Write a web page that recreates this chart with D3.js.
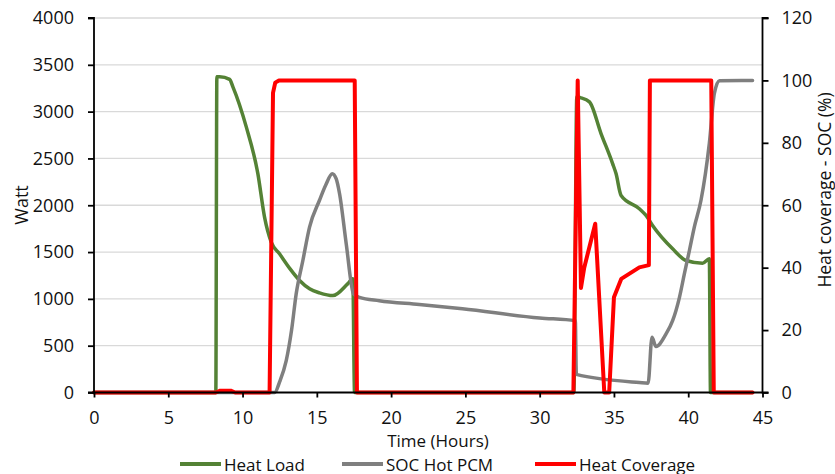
<!DOCTYPE html>
<html>
<head>
<meta charset="utf-8">
<script src="https://cdn.jsdelivr.net/npm/d3@7"></script>
<style>
  body { margin: 0; background: #fff; }
  text { font-family: "Open Sans", sans-serif; fill: #111; }
</style>
</head>
<body>
<div id="chart"></div>
<script>
const width = 835;
const height = 474;
const margin = { top: 18, bottom: 82, left: 94, right: 72 };

// time (hours), heat load (W)
const heatLoad = [
  [0, 0], [8.2, 0], [8.27, 3372], [8.46, 3372], [9.13, 3344], [9.35, 3265],
  [10.25, 2837], [11.03, 2338], [11.48, 1873], [11.93, 1606], [12.49, 1481],
  [13.2, 1320], [13.84, 1196], [14.51, 1107], [15.18, 1064], [16.08, 1035],
  [17.09, 1163], [17.42, 1214], [17.54, 0], [32.3, 0], [32.5, 3160],
  [32.72, 3150], [33.35, 3104], [34.13, 2766], [34.91, 2445], [35.14, 2338],
  [35.48, 2105], [36.71, 1963], [37.16, 1891], [37.6, 1784], [38.95, 1535],
  [39.85, 1410], [40.97, 1381], [41.42, 1428], [41.5, 0], [44.33, 0]
];

// time (hours), SOC hot PCM (%)
const socHotPcm = [
  [0, 0], [12.16, 0], [12.5, 3.5], [12.94, 10.2], [13.3, 20], [13.61, 31.6],
  [14.06, 42.3], [14.51, 53], [15.18, 61.6], [15.6, 66.5], [16.04, 70.1],
  [16.3, 68.5], [16.53, 63.7], [16.98, 47.6], [17.47, 31.6], [17.87, 30.5],
  [19.2, 29.4], [21.9, 28.2], [24.8, 26.8], [30, 23.9], [32.4, 23.0],
  [32.47, 5.8], [36.71, 3.2], [37.3, 3.0], [37.56, 17.7], [37.83, 14.7],
  [38.5, 18.7], [38.95, 23.0], [39.41, 30.5], [39.74, 38.0], [40.08, 45.5],
  [40.41, 53], [40.86, 61.6], [41.42, 79.8], [41.76, 95.8], [42.1, 99.9],
  [44.33, 100]
];

// time (hours), heat coverage (%)
const heatCoverage = [
  [0, 0], [8.2, 0], [8.5, 0.6], [9.2, 0.6], [9.5, 0], [11.82, 0], [12.05, 96],
  [12.2, 99.3], [12.45, 100], [17.55, 100], [17.7, 0], [32.27, 0],
  [32.56, 100], [32.78, 33.5], [33.0, 40], [33.74, 54.1], [34.35, 0],
  [34.68, 0], [35.0, 30.5], [35.49, 36.4], [36.71, 40.1], [37.35, 40.8],
  [37.42, 100], [41.55, 100], [41.72, 0], [44.33, 0]
];

const xTicks = [0, 5, 10, 15, 20, 25, 30, 35, 40, 45];
const leftTicks = [0, 500, 1000, 1500, 2000, 2500, 3000, 3500, 4000];
const rightTicks = [0, 20, 40, 60, 80, 100, 120];

const series = [
  { name: "Heat Load", data: heatLoad, axis: "left", color: "#548235", w: 3.5, curve: d3.curveMonotoneX },
  { name: "SOC Hot PCM", data: socHotPcm, axis: "right", color: "#7f7f7f", w: 3.5, curve: d3.curveMonotoneX },
  { name: "Heat Coverage", data: heatCoverage, axis: "right", color: "#ff0000", w: 4, curve: d3.curveLinear }
];

const svg = d3.select("#chart")
  .append("svg")
  .attr("width", width)
  .attr("height", height);

const x = d3.scaleLinear().domain([0, 45]).range([margin.left, width - margin.right - 0.5]);
const yL = d3.scaleLinear().domain([0, 4000]).range([height - margin.bottom + 0.5, margin.top]);
const yR = d3.scaleLinear().domain([0, 120]).range([height - margin.bottom + 0.5, margin.top]);

// gridlines
svg.append("g")
  .selectAll("line")
  .data(leftTicks.slice(1))
  .enter().append("line")
  .attr("x1", x(0)).attr("x2", x(45))
  .attr("y1", d => yL(d)).attr("y2", d => yL(d))
  .attr("stroke", "#d9d9d9")
  .attr("stroke-width", 1.3);

// lines
series.forEach(s => {
  const y = s.axis === "left" ? yL : yR;
  const line = d3.line()
    .curve(s.curve)
    .x(d => x(d[0]))
    .y(d => y(d[1]));
  svg.append("path")
    .datum(s.data)
    .attr("fill", "none")
    .attr("stroke", s.color)
    .attr("stroke-width", s.w)
    .attr("stroke-linejoin", "round")
    .attr("stroke-linecap", "round")
    .attr("d", line);
});

// axes
const xAxis = svg.append("g")
  .attr("transform", `translate(0,${yL(0)})`)
  .call(d3.axisBottom(x).tickValues(xTicks).tickFormat(d3.format("d")).tickSize(5).tickPadding(14));
const leftAxis = svg.append("g")
  .attr("transform", `translate(${x(0)},0)`)
  .call(d3.axisLeft(yL).tickValues(leftTicks).tickFormat(d3.format("d")).tickSize(6).tickPadding(14));
const rightAxis = svg.append("g")
  .attr("transform", `translate(${x(45)},0)`)
  .call(d3.axisRight(yR).tickValues(rightTicks).tickFormat(d3.format("d")).tickSize(6).tickPadding(13));

[xAxis, leftAxis, rightAxis].forEach(g => {
  g.selectAll("path.domain").attr("stroke", "#000").attr("stroke-width", 1.8);
  g.selectAll(".tick line").attr("stroke", "#000").attr("stroke-width", 1.8);
  g.selectAll(".tick text")
    .attr("font-family", "Open Sans")
    .attr("font-size", 18)
    .attr("fill", "#111");
});
xAxis.select("path.domain").attr("d", `M${x(0)},0H${x(45)}`);
leftAxis.select("path.domain").attr("d", `M-6,${yL(0)}H0V${yL(4000)}H-6`);
rightAxis.select("path.domain").attr("d", `M6,${yR(0)}H0V${yR(120)}H6`);

// axis titles
svg.append("text")
  .attr("transform", "translate(21,205) rotate(-90)")
  .attr("text-anchor", "middle")
  .attr("dominant-baseline", "central")
  .attr("font-size", 18)
  .text("Watt");

svg.append("text")
  .attr("transform", "translate(824,190) rotate(-90)")
  .attr("text-anchor", "middle")
  .attr("dominant-baseline", "central")
  .attr("font-size", 17.5)
  .text("Heat coverage - SOC (%)");

svg.append("text")
  .attr("x", 438)
  .attr("y", 440)
  .attr("text-anchor", "middle")
  .attr("dominant-baseline", "central")
  .attr("font-size", 17)
  .text("Time (Hours)");

// legend
const legendX = [180, 342, 535];
const legend = svg.append("g")
  .selectAll("g")
  .data(series)
  .enter().append("g")
  .attr("transform", (d, i) => `translate(${legendX[i]},464)`);
legend.append("line")
  .attr("x1", 0).attr("x2", 41)
  .attr("stroke", d => d.color)
  .attr("stroke-width", 4);
legend.append("text")
  .attr("x", 44)
  .attr("dominant-baseline", "central")
  .attr("font-size", 17)
  .text(d => d.name);
</script>
</body>
</html>
